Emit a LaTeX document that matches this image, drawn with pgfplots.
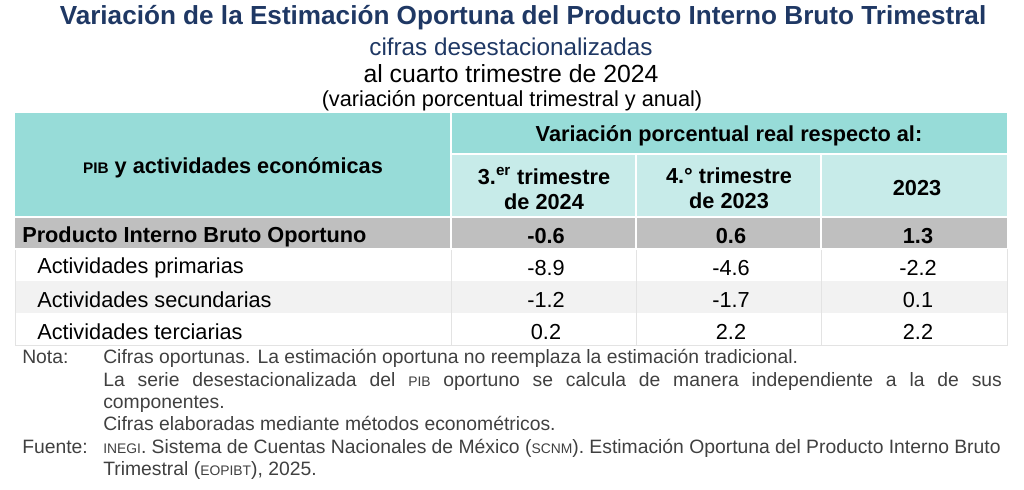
\documentclass[border=0pt]{standalone}
\usepackage{pgfplots}
\pgfplotsset{compat=1.18}
\usepackage{pgfplotstable}
\usepackage{fontspec}
\setmainfont{Liberation Sans}
\definecolor{navy}{HTML}{1F3864}
\definecolor{tealA}{HTML}{97DCD8}
\definecolor{tealB}{HTML}{C7EBE9}
\definecolor{grayrow}{HTML}{BFBFBF}
\definecolor{lightrow}{HTML}{F2F2F2}
\definecolor{cellline}{HTML}{E3E3E3}
\definecolor{notegray}{HTML}{404040}
\newcommand{\tbl}{\fontsize{16.3pt}{19pt}\selectfont}
\newcommand{\smc}[1]{{\fontsize{11.5pt}{13pt}\selectfont #1}}
\newcommand{\nsmc}[1]{{\fontsize{10.4pt}{12pt}\selectfont #1}}
\pgfplotstableread{
y a b c
236.5 -0.6 0.6 1.3
}\pibrow
\pgfplotstableread{
y a b c
268 -8.9 -4.6 -2.2
300 -1.2 -1.7 0.1
332 0.2 2.2 2.2
}\actrows
\begin{document}
\begin{tikzpicture}
\begin{axis}[x=0.75pt, y=0.75pt, xmin=0, xmax=1024, ymin=0, ymax=489,
  y dir=reverse, hide axis, clip=false,
  point meta=explicit symbolic,
  nodes near coords,
  every node near coord/.append style={anchor=center, inner sep=0pt}]
\path (axis cs:0,0) rectangle (axis cs:1024,489);
% cell backgrounds
\fill[tealA] (axis cs:15,113) rectangle (axis cs:1007,154);
\fill[tealA] (axis cs:15,113) rectangle (axis cs:451,217);
\fill[tealB] (axis cs:451,154) rectangle (axis cs:1007,217);
\fill[grayrow] (axis cs:15,217) rectangle (axis cs:1007,249);
\fill[white] (axis cs:15,249) rectangle (axis cs:1007,281);
\fill[lightrow] (axis cs:15,281) rectangle (axis cs:1007,313);
\fill[white] (axis cs:15,313) rectangle (axis cs:1007,345);
% light outlines
\draw[cellline, line width=0.75pt] (axis cs:15,249) -- (axis cs:15,345) -- (axis cs:1007,345) -- (axis cs:1007,249);
\draw[cellline, line width=0.75pt] (axis cs:451,249) -- (axis cs:451,345);
\draw[cellline, line width=0.75pt] (axis cs:636,249) -- (axis cs:636,345);
\draw[cellline, line width=0.75pt] (axis cs:821,249) -- (axis cs:821,345);
% white separators
\draw[white, line width=1.5pt] (axis cs:451,113) -- (axis cs:451,249);
\draw[white, line width=1.5pt] (axis cs:636,154) -- (axis cs:636,249);
\draw[white, line width=1.5pt] (axis cs:821,154) -- (axis cs:821,249);
\draw[white, line width=1.5pt] (axis cs:451,154) -- (axis cs:1007,154);
\draw[white, line width=1.5pt] (axis cs:15,217) -- (axis cs:1007,217);
\draw[white, line width=1.5pt] (axis cs:15,249) -- (axis cs:1007,249);
% titles
\begin{scope}[every node/.style={inner sep=0pt}]
\node[navy, font=\bfseries\fontsize{19.6pt}{22pt}\selectfont] at (axis cs:523,18) {Variación de la Estimación Oportuna del Producto Interno Bruto Trimestral};
\node[navy, font=\fontsize{18.2pt}{20pt}\selectfont] at (axis cs:511,47) {cifras desestacionalizadas};
\node[font=\fontsize{18.6pt}{20pt}\selectfont] at (axis cs:511,74) {al cuarto trimestre de 2024};
\node[font=\fontsize{16.3pt}{18pt}\selectfont] at (axis cs:512,101) {(variación porcentual trimestral y anual)};
\end{scope}
% headers
\node[font=\tbl\bfseries] at (axis cs:233,167.5) {\smc{PIB} y actividades económicas};
\node[font=\tbl\bfseries] at (axis cs:729,136) {Variación porcentual real respecto al:};
\node[font=\tbl\bfseries, align=center] at (axis cs:544,188.5) {3.\textsuperscript{er} trimestre\\de 2024};
\node[font=\tbl\bfseries, align=center] at (axis cs:729,188.5) {4.° trimestre\\de 2023};
\node[font=\tbl\bfseries] at (axis cs:917,188.5) {2023};
% row labels
\node[font=\tbl\bfseries, anchor=west, inner sep=0pt] at (axis cs:22,236.5) {Producto Interno Bruto Oportuno};
\node[font=\tbl, anchor=west, inner sep=0pt] at (axis cs:37,268) {Actividades primarias};
\node[font=\tbl, anchor=west, inner sep=0pt] at (axis cs:37,300) {Actividades secundarias};
\node[font=\tbl, anchor=west, inner sep=0pt] at (axis cs:37,332) {Actividades terciarias};
% values
\addplot[draw=none, mark=none, every node near coord/.append style={font=\tbl\bfseries}] table[x expr=546, y=y, meta=a] {\pibrow};
\addplot[draw=none, mark=none, every node near coord/.append style={font=\tbl\bfseries}] table[x expr=731, y=y, meta=b] {\pibrow};
\addplot[draw=none, mark=none, every node near coord/.append style={font=\tbl\bfseries}] table[x expr=918, y=y, meta=c] {\pibrow};
\addplot[draw=none, mark=none, every node near coord/.append style={font=\tbl}] table[x expr=546, y=y, meta=a] {\actrows};
\addplot[draw=none, mark=none, every node near coord/.append style={font=\tbl}] table[x expr=731, y=y, meta=b] {\actrows};
\addplot[draw=none, mark=none, every node near coord/.append style={font=\tbl}] table[x expr=918, y=y, meta=c] {\actrows};
% notes
\begin{scope}[every node/.style={font=\fontsize{14.5pt}{17pt}\selectfont, text=notegray, anchor=base west, inner sep=0pt}]
\node at (axis cs:22,363) {Nota:};
\node at (axis cs:103,363) {Cifras oportunas. La estimación oportuna no reemplaza la estimación tradicional.};
\node at (axis cs:103,386) {\makebox[674pt][s]{La serie desestacionalizada del \nsmc{PIB} oportuno se calcula de manera independiente a la de sus}};
\node at (axis cs:103,408) {componentes.};
\node at (axis cs:103,430) {Cifras elaboradas mediante métodos econométricos.};
\node at (axis cs:22,453) {Fuente:};
\node at (axis cs:103,453) {\makebox[673pt][s]{\nsmc{INEGI}. Sistema de Cuentas Nacionales de México (\nsmc{SCNM}). Estimación Oportuna del Producto Interno Bruto}};
\node at (axis cs:103,475) {Trimestral (\nsmc{EOPIBT}), 2025.};
\end{scope}
\end{axis}
\end{tikzpicture}
\end{document}
